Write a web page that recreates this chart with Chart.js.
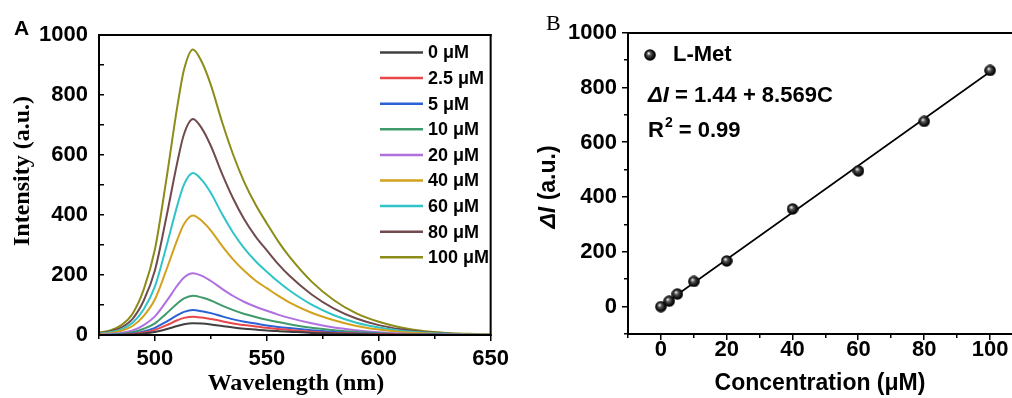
<!DOCTYPE html>
<html><head><meta charset="utf-8">
<script src="https://cdn.jsdelivr.net/npm/chart.js@4.4.1/dist/chart.umd.min.js"></script>
<style>
html,body{margin:0;padding:0;background:#fff;width:1012px;height:398px;overflow:hidden;position:relative}
#ca{position:absolute;left:0;top:0}
#cb{position:absolute;left:500px;top:0}
</style></head><body>
<canvas id="ca" width="520" height="398"></canvas>
<canvas id="cb" width="540" height="398"></canvas>
<script>
// ---------- Panel A data ----------
const wavelengths = [475,480,485,490,495,500,505,510,513,517,521,525,530,535,540,545,550,555,560,570,580,590,600,610,620,630,640,650];
const i0   = [0,0,0,2,5,10,19,30,36,39,38,35,30,25,21,18,15,13,11,7,5,3,2,1,1,0,0,0];
const i2_5 = [0,0,1,3,8,17,32,49,57,61,58,53,46,38,33,28,24,20,17,11,7,5,3,2,1,0,0,0];
const i5   = [0,0,2,5,12,24,44,66,77,83,79,73,62,52,44,38,32,27,23,16,10,6,4,2,1,1,0,0];
const i10  = [0,1,4,9,21,39,71,105,122,131,125,115,98,83,70,60,51,43,36,24,16,10,6,3,2,1,1,0];
const i20  = [1,3,7,15,33,62,111,165,192,206,197,180,154,130,110,94,81,68,57,39,25,16,9,5,3,2,1,0];
const i40  = [3,6,14,30,64,119,215,318,370,398,380,348,297,251,213,181,156,131,109,74,49,30,18,10,6,3,2,1];
const i60  = [4,9,19,41,86,162,292,432,502,540,516,473,403,340,288,246,211,178,149,101,66,41,25,14,8,4,2,1];
const i80  = [6,12,25,54,115,216,389,576,670,720,688,630,537,454,384,328,282,237,198,135,88,55,33,19,10,5,3,1];
const i100 = [8,15,33,71,152,286,514,762,885,952,909,833,710,600,508,434,372,313,262,178,116,72,44,25,13,7,4,2];
const seriesLabels = ['0 \u03bcM','2.5 \u03bcM','5 \u03bcM','10 \u03bcM','20 \u03bcM','40 \u03bcM','60 \u03bcM','80 \u03bcM','100 \u03bcM'];
const seriesValues = [i0,i2_5,i5,i10,i20,i40,i60,i80,i100];
const seriesColors = ['#404040','#e8474a','#2a62d6','#3f9a6c','#b070e0','#d2a21e','#2ec4c8','#704a4c','#8c8c18'];
const aXTicks = [500,550,600,650];
const aYTicks = [0,200,400,600,800,1000];

// ---------- Panel B data ----------
const concentrations = [0,2.5,5,10,20,40,60,80,100];
const deltaI = [0,20,46,92,167,357,496,677,863];
const fitX = [0,100];
const fitY = [1.44,858.34];
const bXTicks = [0,20,40,60,80,100];
const bYTicks = [0,200,400,600,800,1000];

const SANS = '"Liberation Sans", Arial, sans-serif';
const SERIF = '"Liberation Serif", "Times New Roman", serif';

function setTicks(arr){ return function(s){ s.ticks = arr.map(v=>({value:v})); }; }
const plain = v => String(v);

function frameAndTicks(list){
  return {
    id:'frameticks',
    afterDraw(chart){
      const ctx = chart.ctx, a = chart.chartArea;
      ctx.save();
      ctx.fillStyle = '#000';
      ctx.fillRect(a.left - 1, a.top - 1, a.right - a.left + 2, 2);
      ctx.fillRect(a.left - 1, a.bottom - 1, a.right - a.left + 2, 2);
      ctx.fillRect(a.left - 1, a.top - 1, 2, a.bottom - a.top + 2);
      ctx.fillRect(a.right - 1, a.top - 1, 2, a.bottom - a.top + 2);
      list.forEach(t=>{
        const sc = chart.scales[t.axis];
        t.values.forEach(v=>{
          const p = Math.round(sc.getPixelForValue(v));
          if (t.axis === 'y'){
            if (t.dir > 0) ctx.fillRect(a.left - t.len, p - 1, t.len, 1.5);
            else ctx.fillRect(a.left, p - 1, t.len, 1.5);
          } else {
            if (t.dir > 0) ctx.fillRect(p - 1, a.bottom, 1.5, t.len);
            else ctx.fillRect(p - 1, a.bottom - t.len, 1.5, t.len);
          }
        });
      });
      ctx.restore();
    }
  };
}

// ---------- Panel A ----------
const dsA = seriesValues.map((arr,k)=>({
  label: seriesLabels[k],
  data: wavelengths.map((w,i)=>({x:w, y:arr[i]})),
  borderColor: seriesColors[k],
  backgroundColor: seriesColors[k],
  borderWidth: 2,
  pointRadius: 0,
  fill: false,
  cubicInterpolationMode: 'monotone'
}));

const textA = {
  id:'textA',
  afterDraw(chart){
    const ctx = chart.ctx;
    ctx.save();
    ctx.fillStyle = '#000';
    ctx.font = 'bold 21px ' + SANS;
    ctx.textBaseline = 'alphabetic';
    ctx.textAlign = 'left';
    ctx.fillText('A', 14, 35);
    ctx.font = 'bold 24px ' + SERIF;
    ctx.textAlign = 'center';
    ctx.textBaseline = 'middle';
    ctx.fillText('Wavelength (nm)', 296, 384);
    ctx.save();
    ctx.translate(23, 171);
    ctx.rotate(-Math.PI/2);
    ctx.fillText('Intensity (a.u.)', 0, 0);
    ctx.restore();
    ctx.font = 'bold 18px ' + SANS;
    ctx.textAlign = 'left';
    chart.data.datasets.forEach((d,k)=>{
      const yy = 52.5 + k*25.6;
      ctx.strokeStyle = d.borderColor;
      ctx.lineWidth = 2.5;
      ctx.beginPath(); ctx.moveTo(380, yy); ctx.lineTo(423, yy); ctx.stroke();
      ctx.fillText(d.label, 428, yy + 1);
    });
    ctx.restore();
  }
};

new Chart(document.getElementById('ca'), {
  type:'line',
  data:{ datasets: dsA },
  options:{
    responsive:false, animation:false, devicePixelRatio:1,
    layout:{ padding:{ left:0, top:35, right:27, bottom:0 } },
    plugins:{ legend:{display:false}, tooltip:{enabled:false} },
    scales:{
      x:{ type:'linear', min:475, max:650,
          afterBuildTicks: setTicks(aXTicks),
          afterFit(s){ s.height = 63; },
          grid:{display:false, drawTicks:false}, border:{display:true, color:'#000', width:2},
          ticks:{ padding:11, color:'#000', maxRotation:0, autoSkip:false, callback: plain,
                  font:{family:SANS, size:22, weight:'bold'} } },
      y:{ type:'linear', min:0, max:1000,
          afterBuildTicks: setTicks(aYTicks),
          afterFit(s){ s.width = 99; },
          grid:{display:false, drawTicks:false}, border:{display:true, color:'#000', width:2},
          ticks:{ padding:11, color:'#000', autoSkip:false, callback: plain,
                  font:{family:SANS, size:22, weight:'bold'} } }
    }
  },
  plugins:[ frameAndTicks([
    {axis:'y', values:[100,200,300,400,500,600,700,800,900], len:5, dir:-1},
    {axis:'x', values:[475,525,575,625], len:4, dir:1},
    {axis:'x', values:[500,550,600,650], len:6, dir:1}
  ]), textA ]
});

// ---------- Panel B ----------
function sphere(d){
  const c = document.createElement('canvas');
  c.width = c.height = d;
  const g = c.getContext('2d');
  const r = d/2;
  const gr = g.createRadialGradient(r*0.75, r*0.7, 0.3, r, r, r);
  gr.addColorStop(0, '#f0f0f0');
  gr.addColorStop(0.3, '#555');
  gr.addColorStop(0.7, '#111');
  gr.addColorStop(1, '#000');
  g.fillStyle = gr;
  g.beginPath(); g.arc(r, r, r-0.2, 0, Math.PI*2); g.fill();
  return c;
}
const ball = sphere(12);

const textB = {
  id:'textB',
  afterDraw(chart){
    const ctx = chart.ctx;
    const ox = -500;
    ctx.save();
    ctx.fillStyle = '#000';
    ctx.font = '22px ' + SERIF;
    ctx.textBaseline = 'alphabetic';
    ctx.textAlign = 'left';
    ctx.fillText('B', 546 + ox, 30);
    ctx.font = 'bold 23px ' + SANS;
    ctx.textAlign = 'center';
    ctx.textBaseline = 'middle';
    ctx.fillText('Concentration (\u03bcM)', 820 + ox, 384);
    ctx.save();
    ctx.translate(549 + ox, 187);
    ctx.rotate(-Math.PI/2);
    ctx.textAlign = 'left';
    const fI = 'italic bold 23px ' + SANS, fN = 'bold 23px ' + SANS;
    ctx.font = fI; const w1 = ctx.measureText('\u0394I').width;
    ctx.font = fN; const w2 = ctx.measureText(' (a.u.)').width;
    let sx = -(w1+w2)/2;
    ctx.font = fI; ctx.fillText('\u0394I', sx, 0);
    ctx.font = fN; ctx.fillText(' (a.u.)', sx + w1, 0);
    ctx.restore();
    ctx.drawImage(ball, 650 + ox - 6, 55 - 6);
    ctx.textAlign = 'left';
    ctx.font = 'bold 22px ' + SANS;
    ctx.fillText(chart.data.datasets[0].label, 673 + ox, 55);
    let x = 648 + ox;
    ctx.font = 'italic bold 22px ' + SANS;
    ctx.fillText('\u0394I', x, 96);
    x += ctx.measureText('\u0394I').width;
    ctx.font = 'bold 22px ' + SANS;
    ctx.fillText(' = 1.44 + 8.569C', x, 96);
    x = 648 + ox;
    ctx.fillText('R', x, 131);
    x += ctx.measureText('R').width + 1;
    ctx.font = 'bold 14px ' + SANS;
    ctx.fillText('2', x, 123);
    x += ctx.measureText('2').width;
    ctx.font = 'bold 22px ' + SANS;
    ctx.fillText(' = 0.99', x, 131);
    ctx.restore();
  }
};

new Chart(document.getElementById('cb'), {
  type:'scatter',
  data:{ datasets:[
    { label:'L-Met',
      data: concentrations.map((c,i)=>({x:c, y:deltaI[i]})),
      pointStyle: ball, pointRadius:6, showLine:false, order:0 },
    { label:'fit', type:'line',
      data: fitX.map((c,i)=>({x:c, y:fitY[i]})),
      borderColor:'#000', borderWidth:1.6, pointRadius:0, fill:false, order:1 }
  ]},
  options:{
    responsive:false, animation:false, devicePixelRatio:1,
    layout:{ padding:{ left:0, top:33, right:17, bottom:0 } },
    plugins:{ legend:{display:false}, tooltip:{enabled:false} },
    scales:{
      x:{ type:'linear', min:-10, max:110,
          afterBuildTicks: setTicks(bXTicks),
          afterFit(s){ s.height = 64; },
          grid:{display:false, drawTicks:false}, border:{display:true, color:'#000', width:2},
          ticks:{ padding:3, color:'#000', maxRotation:0, autoSkip:false, callback: plain,
                  font:{family:SANS, size:22, weight:'bold'} } },
      y:{ type:'linear', min:-100, max:1000,
          afterBuildTicks: setTicks(bYTicks),
          afterFit(s){ s.width = 128; },
          grid:{display:false, drawTicks:false}, border:{display:true, color:'#000', width:2},
          ticks:{ padding:11, color:'#000', autoSkip:false, callback: plain,
                  font:{family:SANS, size:22, weight:'bold'} } }
    }
  },
  plugins:[ frameAndTicks([
    {axis:'y', values:[0,200,400,600,800,1000], len:6, dir:1},
    {axis:'y', values:[-100,100,300,500,700,900], len:4, dir:1},
    {axis:'x', values:[0,20,40,60,80,100], len:6, dir:1},
    {axis:'x', values:[-10,10,30,50,70,90,110], len:4, dir:1}
  ]), textB ]
});
</script>
</body></html>
